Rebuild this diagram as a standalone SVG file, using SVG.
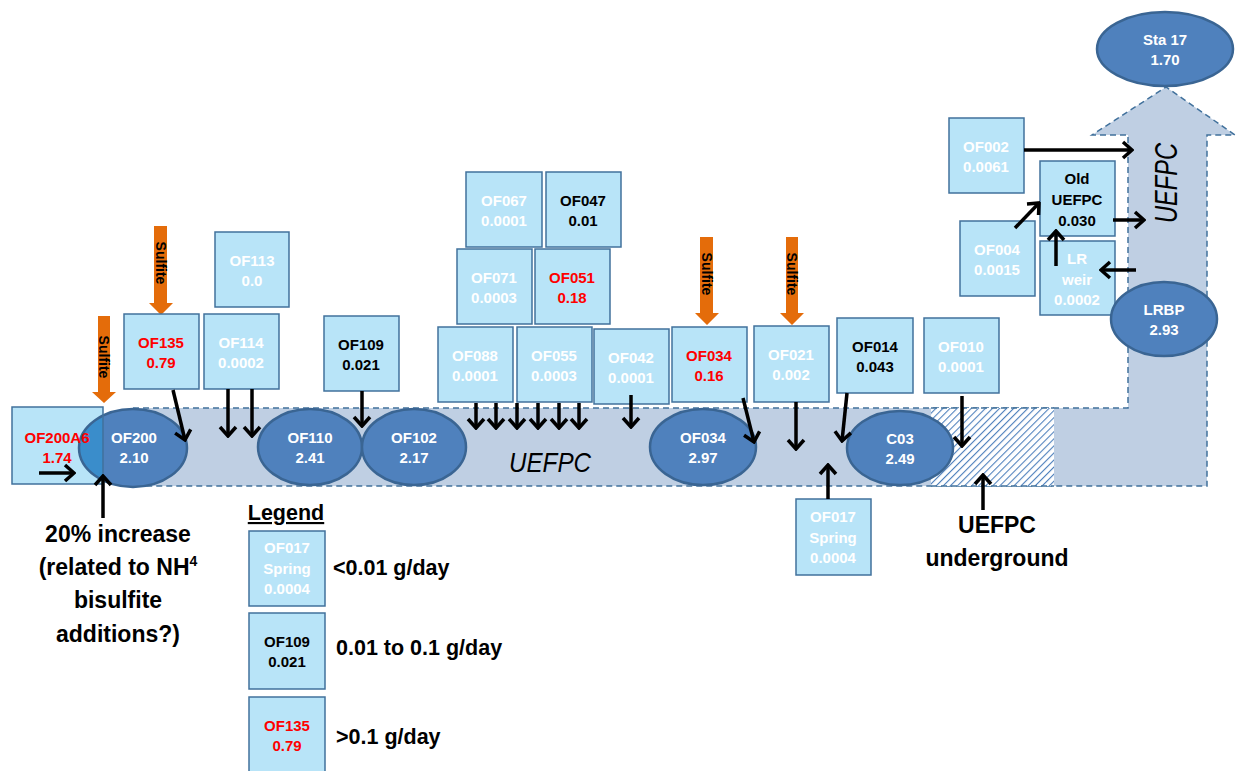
<svg xmlns="http://www.w3.org/2000/svg" width="1236" height="771" viewBox="0 0 1236 771">
<style>
.box{fill:#b8e4f8;stroke:#41719c;stroke-width:1.5}
.ell{fill:#4f81bd;stroke:#3a6593;stroke-width:2.5}
.t{font-family:"Liberation Sans",Arial,sans-serif;font-weight:bold;font-size:15px;text-anchor:middle}
.w{fill:#ffffff}.k{fill:#000000}.r{fill:#ff0000}
.big{font-family:"Liberation Sans",Arial,sans-serif;font-weight:bold;font-size:23px;fill:#000}
.lg{font-family:"Liberation Sans",Arial,sans-serif;font-weight:bold;font-size:21.5px;fill:#000}
.sul{font-family:"Liberation Sans",Arial,sans-serif;font-weight:bold;font-size:14px;fill:#000;text-anchor:middle}
.ar{stroke:#000;stroke-width:3.5;fill:none;marker-end:url(#ah)}
.or{fill:#e46c0a}
.band{fill:#bfcfe3;stroke:#41719c;stroke-width:1.5;stroke-dasharray:6 4}
</style>
<defs>
<marker id="ah" markerUnits="userSpaceOnUse" viewBox="-12 -10 14 20" markerWidth="14" markerHeight="20" refX="0" refY="0" orient="auto">
<path d="M-9,-8 L0,0 L-9,8" fill="none" stroke="#000" stroke-width="3.5"/>
</marker>
<pattern id="hatch" patternUnits="userSpaceOnUse" width="5" height="5" patternTransform="rotate(45)">
<rect width="5" height="5" fill="#ffffff"/>
<line x1="0" y1="0" x2="0" y2="5" stroke="#4f81bd" stroke-width="2.2"/>
</pattern>
<clipPath id="clipA6"><rect x="12" y="407" width="91" height="77"/></clipPath>
</defs>

<g id="band">
<path class="band" d="M133,408 L1128,408 L1128,135 L1092,135 L1166,87 L1235,135 L1207,135 L1207,486 L133,486 Z"/>
<rect x="931" y="408" width="123" height="78" fill="url(#hatch)"/>
<path d="M931,408 L1054,408 M931,486 L1054,486" fill="none" stroke="#41719c" stroke-width="1.5" stroke-dasharray="6 4"/>
<text x="550" y="472" font-family="Liberation Sans,Arial,sans-serif" font-style="italic" font-size="28" textLength="82" lengthAdjust="spacingAndGlyphs" text-anchor="middle" fill="#000">UEFPC</text>
<text transform="translate(1177,183) rotate(-90)" font-family="Liberation Sans,Arial,sans-serif" font-style="italic" font-size="32" textLength="80" lengthAdjust="spacingAndGlyphs" text-anchor="middle" fill="#000">UEFPC</text>
</g>

<g id="sulfite">
<path class="or" d="M98,316 L110,316 L110,392 L116,392 L104,403 L92,392 L98,392 Z"/>
<text class="sul" transform="translate(99,357) rotate(90)">Sulfite</text>
<path class="or" d="M154,226 L167,226 L167,303 L173,303 L161,315 L149,303 L154,303 Z"/>
<text class="sul" transform="translate(156,263) rotate(90)">Sulfite</text>
<path class="or" d="M700,237 L713,237 L713,313 L719,313 L707,325 L695,313 L700,313 Z"/>
<text class="sul" transform="translate(702,274) rotate(90)">Sulfite</text>
<path class="or" d="M786,237 L798,237 L798,313 L804,313 L792,325 L780,313 L786,313 Z"/>
<text class="sul" transform="translate(787,274) rotate(90)">Sulfite</text>
</g>

<g id="n-OF200"><ellipse class="ell" cx="133" cy="448" rx="54" ry="39"/>
<text class="t w" x="134" y="443">OF200</text><text class="t w" x="134" y="463">2.10</text></g>
<g id="n-OF200A6"><rect x="12" y="407" width="91" height="77" fill="#b8e4f8"/>
<ellipse cx="133" cy="448" rx="54" ry="39" fill="#3a8dcb" stroke="#3a6593" stroke-width="2.5" clip-path="url(#clipA6)"/>
<rect x="12" y="407" width="91" height="77" fill="none" stroke="#41719c" stroke-width="1.5"/>
<text class="t r" x="57" y="443">OF200A6</text><text class="t r" x="57" y="463">1.74</text></g>
<g id="n-OF110"><ellipse class="ell" cx="310" cy="447" rx="52" ry="38"/>
<text class="t w" x="310" y="443">OF110</text><text class="t w" x="310" y="463">2.41</text></g>
<g id="n-OF102"><ellipse class="ell" cx="414" cy="447" rx="52" ry="38"/>
<text class="t w" x="414" y="443">OF102</text><text class="t w" x="414" y="463">2.17</text></g>
<g id="n-OF034e"><ellipse class="ell" cx="703" cy="447" rx="53" ry="38"/>
<text class="t w" x="703" y="443">OF034</text><text class="t w" x="703" y="463">2.97</text></g>
<g id="n-C03"><ellipse class="ell" cx="900" cy="448" rx="53" ry="37"/>
<text class="t w" x="900" y="444">C03</text><text class="t w" x="900" y="464">2.49</text></g>
<g id="n-Sta17"><ellipse class="ell" cx="1165" cy="49" rx="68" ry="37"/>
<text class="t w" x="1165" y="45">Sta 17</text><text class="t w" x="1165" y="65">1.70</text></g>

<g id="n-OF135"><rect class="box" x="124" y="314" width="75" height="75"/>
<text class="t r" x="161" y="348">OF135</text><text class="t r" x="161" y="368">0.79</text></g>
<g id="n-OF113"><rect class="box" x="215" y="232" width="74" height="75"/>
<text class="t w" x="252" y="266">OF113</text><text class="t w" x="252" y="286">0.0</text></g>
<g id="n-OF114"><rect class="box" x="204" y="314" width="75" height="75"/>
<text class="t w" x="241" y="348">OF114</text><text class="t w" x="241" y="368">0.0002</text></g>
<g id="n-OF109"><rect class="box" x="324" y="316" width="75" height="75"/>
<text class="t k" x="361" y="350">OF109</text><text class="t k" x="361" y="370">0.021</text></g>
<g id="n-OF067"><rect class="box" x="466" y="172" width="76" height="75"/>
<text class="t w" x="504" y="206">OF067</text><text class="t w" x="504" y="226">0.0001</text></g>
<g id="n-OF047"><rect class="box" x="546" y="172" width="75" height="75"/>
<text class="t k" x="583" y="206">OF047</text><text class="t k" x="583" y="226">0.01</text></g>
<g id="n-OF071"><rect class="box" x="457" y="249" width="75" height="75"/>
<text class="t w" x="494" y="283">OF071</text><text class="t w" x="494" y="303">0.0003</text></g>
<g id="n-OF051"><rect class="box" x="535" y="249" width="75" height="75"/>
<text class="t r" x="572" y="283">OF051</text><text class="t r" x="572" y="303">0.18</text></g>
<g id="n-OF088"><rect class="box" x="438" y="327" width="75" height="75"/>
<text class="t w" x="475" y="361">OF088</text><text class="t w" x="475" y="381">0.0001</text></g>
<g id="n-OF055"><rect class="box" x="517" y="327" width="75" height="75"/>
<text class="t w" x="554" y="361">OF055</text><text class="t w" x="554" y="381">0.0003</text></g>
<g id="n-OF042"><rect class="box" x="594" y="329" width="75" height="75"/>
<text class="t w" x="631" y="363">OF042</text><text class="t w" x="631" y="383">0.0001</text></g>
<g id="n-OF034"><rect class="box" x="672" y="327" width="75" height="75"/>
<text class="t r" x="709" y="361">OF034</text><text class="t r" x="709" y="381">0.16</text></g>
<g id="n-OF021"><rect class="box" x="754" y="326" width="75" height="76"/>
<text class="t w" x="791" y="360">OF021</text><text class="t w" x="791" y="380">0.002</text></g>
<g id="n-OF014"><rect class="box" x="837" y="318" width="76" height="75"/>
<text class="t k" x="875" y="352">OF014</text><text class="t k" x="875" y="372">0.043</text></g>
<g id="n-OF010"><rect class="box" x="924" y="318" width="75" height="75"/>
<text class="t w" x="961" y="352">OF010</text><text class="t w" x="961" y="372">0.0001</text></g>
<g id="n-OF017"><rect class="box" x="796" y="499" width="75" height="76"/>
<text class="t w" x="833" y="522">OF017</text><text class="t w" x="833" y="543">Spring</text><text class="t w" x="833" y="563">0.0004</text></g>
<g id="n-OF002"><rect class="box" x="949" y="118" width="75" height="75"/>
<text class="t w" x="986" y="152">OF002</text><text class="t w" x="986" y="172">0.0061</text></g>
<g id="n-OldUEFPC"><rect class="box" x="1040" y="161" width="75" height="75"/>
<text class="t k" x="1077" y="184">Old</text><text class="t k" x="1077" y="205">UEFPC</text><text class="t k" x="1077" y="226">0.030</text></g>
<g id="n-OF004"><rect class="box" x="960" y="221" width="75" height="75"/>
<text class="t w" x="997" y="255">OF004</text><text class="t w" x="997" y="275">0.0015</text></g>
<g id="n-LRweir"><rect class="box" x="1040" y="241" width="75" height="74"/>
<text class="t w" x="1077" y="264">LR</text><text class="t w" x="1077" y="285">weir</text><text class="t w" x="1077" y="305">0.0002</text></g>
<g id="n-LRBP"><ellipse class="ell" cx="1164" cy="319" rx="53" ry="37"/>
<text class="t w" x="1164" y="315">LRBP</text><text class="t w" x="1164" y="335">2.93</text></g>

<g id="connectors">
<path class="ar" d="M39,473 L74,473"/>
<path class="ar" d="M103,518 L103,476"/>
<path class="ar" d="M173,390 L185,440"/>
<path class="ar" d="M228,389 L228,436"/>
<path class="ar" d="M252,389 L252,436"/>
<path class="ar" d="M362,391 L362,426"/>
<path class="ar" d="M476,403 L476,428"/>
<path class="ar" d="M496,403 L496,428"/>
<path class="ar" d="M517,403 L517,428"/>
<path class="ar" d="M538,403 L538,428"/>
<path class="ar" d="M559,403 L559,428"/>
<path class="ar" d="M579,403 L579,428"/>
<path class="ar" d="M631,395 L631,427"/>
<path class="ar" d="M743,398 L754,442"/>
<path class="ar" d="M796,402 L796,449"/>
<path class="ar" d="M847,393 L842,441"/>
<path class="ar" d="M828,499 L828,465"/>
<path class="ar" d="M962,396 L962,446"/>
<path class="ar" d="M983,510 L983,475"/>
<path class="ar" d="M1024,150 L1132,150"/>
<path class="ar" d="M1113,220 L1144,220"/>
<path class="ar" d="M1015,228 L1039,203"/>
<path class="ar" d="M1056,266 L1056,231"/>
<path class="ar" d="M1136,270 L1101,270"/>
</g>

<g id="labels">
<text class="big" x="118" y="542" text-anchor="middle">20% increase</text>
<text class="big" x="118" y="575" text-anchor="middle">(related to NH<tspan dy="-9" font-size="14">4</tspan></text>
<text class="big" x="118" y="608" text-anchor="middle">bisulfite</text>
<text class="big" x="118" y="642" text-anchor="middle">additions?)</text>
<text class="big" x="997" y="533" text-anchor="middle">UEFPC</text>
<text class="big" x="997" y="566" text-anchor="middle">underground</text>
</g>

<g id="legend">
<text class="lg" x="286" y="520" text-anchor="middle" font-size="20" text-decoration="underline">Legend</text>
<rect class="box" x="249" y="531" width="76" height="75"/>
<text class="t w" x="287" y="553">OF017</text><text class="t w" x="287" y="574">Spring</text><text class="t w" x="287" y="594">0.0004</text>
<rect class="box" x="249" y="613" width="76" height="76"/>
<text class="t k" x="287" y="647">OF109</text><text class="t k" x="287" y="667">0.021</text>
<rect class="box" x="249" y="697" width="76" height="80"/>
<text class="t r" x="287" y="731">OF135</text><text class="t r" x="287" y="751">0.79</text>
<text class="lg" x="333" y="575">&lt;0.01 g/day</text>
<text class="lg" x="336" y="655">0.01 to 0.1 g/day</text>
<text class="lg" x="336" y="744">&gt;0.1 g/day</text>
</g>
</svg>
